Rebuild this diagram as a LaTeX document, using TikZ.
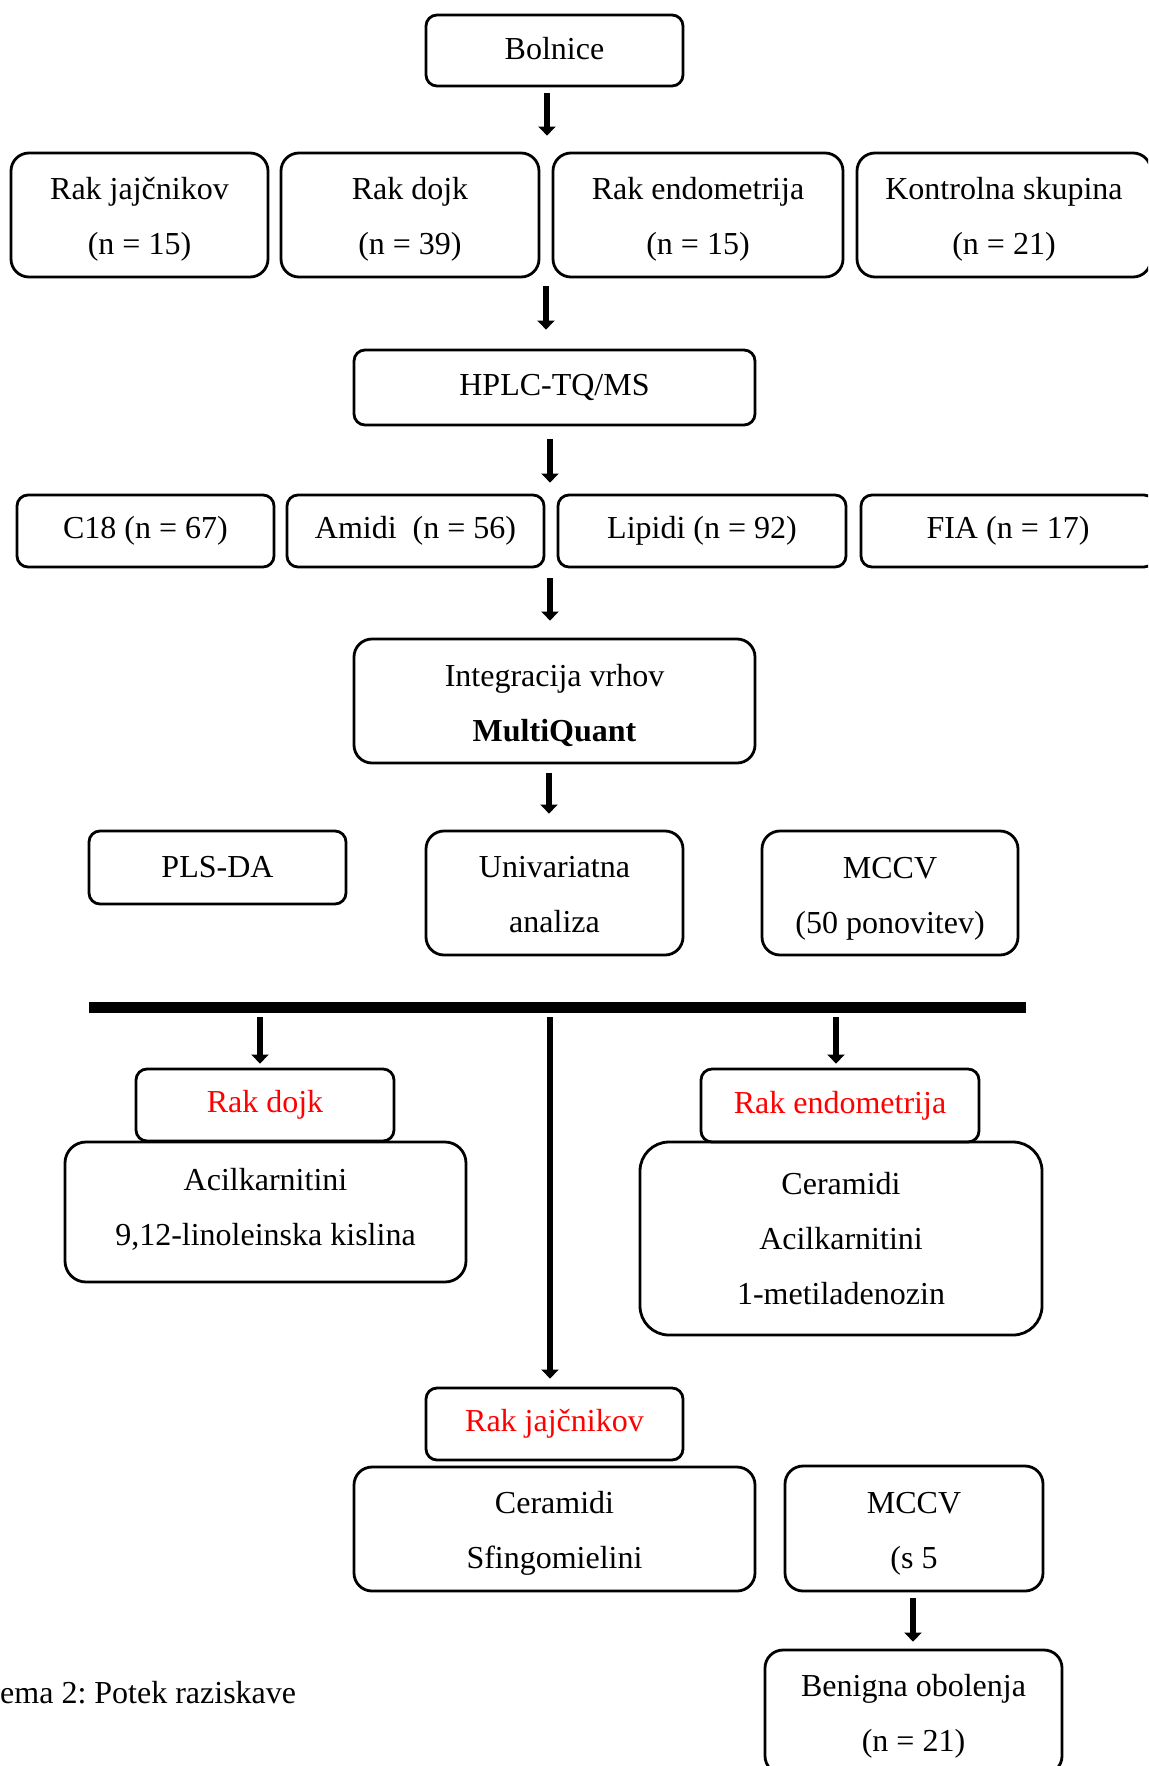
\documentclass[tikz,border=0pt]{standalone}
\usepackage{fontspec}
\setmainfont{Liberation Serif}
\usetikzlibrary{arrows.meta}
\newcommand{\tstr}[1]{\rule{0pt}{#1pt}}
\frenchspacing
\begin{document}
\begin{tikzpicture}[x=1pt,y=-1pt,
  box/.style={draw, line width=2.8pt, rounded corners=11pt, align=center, inner sep=0pt, font=\fontsize{32}{55}\selectfont},
  tall/.style={rounded corners=18pt},
  arr/.style={line width=6pt, -{Triangle[width=17pt,length=9pt]}},
  redtxt/.style={text=red}]
\clip (0,0) rectangle (1148,1766);
\node[box, minimum width=257pt, minimum height=71pt] (bol) at (554.5,50.5) {Bolnice\rule[-5pt]{0pt}{0pt}};
\node[box, tall, minimum width=257pt, minimum height=124pt] (rj) at (139.5,215) {\tstr{31}Rak jajčnikov\\(n = 15)};
\node[box, tall, minimum width=258pt, minimum height=124pt] (rd) at (410,215) {\tstr{31}Rak dojk\\(n = 39)};
\node[box, tall, minimum width=290pt, minimum height=124pt] (re) at (698,215) {\tstr{31}Rak endometrija\\(n = 15)};
\node[box, tall, minimum width=294pt, minimum height=124pt] (ks) at (1004,215) {\tstr{31}Kontrolna skupina\\(n = 21)};
\node[box, minimum width=401pt, minimum height=75pt] (hplc) at (554.5,387.5) {HPLC-TQ/MS};
\node[box, minimum width=257pt, minimum height=72pt] (c18) at (145.5,531) {C18 (n = 67)};
\node[box, minimum width=257pt, minimum height=72pt] (am) at (415.5,531) {Amidi~ (n = 56)};
\node[box, minimum width=288pt, minimum height=72pt] (lip) at (702,531) {Lipidi (n = 92)};
\node[box, minimum width=294pt, minimum height=72pt] (fia) at (1008,531) {FIA (n = 17)};
\node[box, tall, minimum width=401pt, minimum height=124pt] (int) at (554.5,701) {\tstr{31}Integracija vrhov\\\textbf{MultiQuant}};
\node[box, minimum width=257pt, minimum height=73pt] (pls) at (217.5,867.5) {PLS-DA};
\node[box, tall, minimum width=257pt, minimum height=124pt] (uni) at (554.5,893) {\tstr{25}Univariatna\\analiza};
\node[box, tall, minimum width=256pt, minimum height=124pt] (mc1) at (890,893) {\tstr{33}MCCV\\(50 ponovitev)};
\coordinate (barL) at (89,1007);
\coordinate (barR) at (1026,1007);
\draw[line width=11pt] (barL) -- (barR);
\node[box, redtxt, minimum width=258pt, minimum height=72pt] (rdR) at (265,1105) {Rak dojk};
\node[box, rounded corners=21pt, minimum width=401pt, minimum height=140pt] (acil) at (265.5,1212) {Acilkarnitini\\9,12-linoleinska kislina\rule[-10pt]{0pt}{0pt}};
\node[box, redtxt, minimum width=278pt, minimum height=73pt] (reR) at (840,1105.5) {Rak endometrija};
\node[box, rounded corners=29pt, minimum width=402pt, minimum height=193pt] (cer) at (841,1238.5) {\tstr{22}Ceramidi\\Acilkarnitini\\1-metiladenozin};
\node[box, redtxt, minimum width=257pt, minimum height=72pt] (rjR) at (554.5,1424) {Rak jajčnikov};
\node[box, tall, minimum width=401pt, minimum height=124pt] (cs) at (554.5,1529) {\tstr{31}Ceramidi\\Sfingomielini};
\node[box, tall, minimum width=258pt, minimum height=125pt] (mc2) at (914,1528.5) {\tstr{31}MCCV\\(s 5};
\node[box, tall, minimum width=297pt, minimum height=124pt] (ben) at (913.5,1712) {\tstr{31}Benigna obolenja\\(n = 21)};
\node[anchor=west, inner sep=0pt, font=\fontsize{32}{40}\selectfont] (cap) at (0,1693) {ema 2: Potek raziskave};
% arrows
\draw[arr] ([xshift=-7.5pt,yshift=-6pt]bol.south) -- ([xshift=-7.5pt,yshift=16pt]bol.south |- rd.north);
\draw[arr] ([xshift=-8.5pt,yshift=-8pt]hplc.north |- rd.south) -- ([xshift=-8.5pt,yshift=19pt]hplc.north);
\draw[arr] ([xshift=-4.5pt,yshift=-13pt]hplc.south) -- ([xshift=-4.5pt,yshift=11pt]hplc.south |- am.north);
\draw[arr] ([xshift=-4.5pt,yshift=-10pt]int.north |- am.south) -- ([xshift=-4.5pt,yshift=17pt]int.north);
\draw[arr] ([xshift=-5.5pt,yshift=-9pt]int.south) -- ([xshift=-5.5pt,yshift=16pt]uni.north);
\draw[arr] ([xshift=-5pt,yshift=-10pt]rdR.north |- barL) -- ([xshift=-5pt,yshift=4pt]rdR.north);
\draw[arr] ([xshift=-4.5pt,yshift=-10pt]rjR.north |- barL) -- ([xshift=-4.5pt,yshift=8pt]rjR.north);
\draw[arr] ([xshift=-4pt,yshift=-10pt]reR.north |- barL) -- ([xshift=-4pt,yshift=4pt]reR.north);
\draw[arr] ([xshift=-1pt,yshift=-6pt]mc2.south) -- ([xshift=-1pt,yshift=7pt]mc2.south |- ben.north);
\end{tikzpicture}
\end{document}
